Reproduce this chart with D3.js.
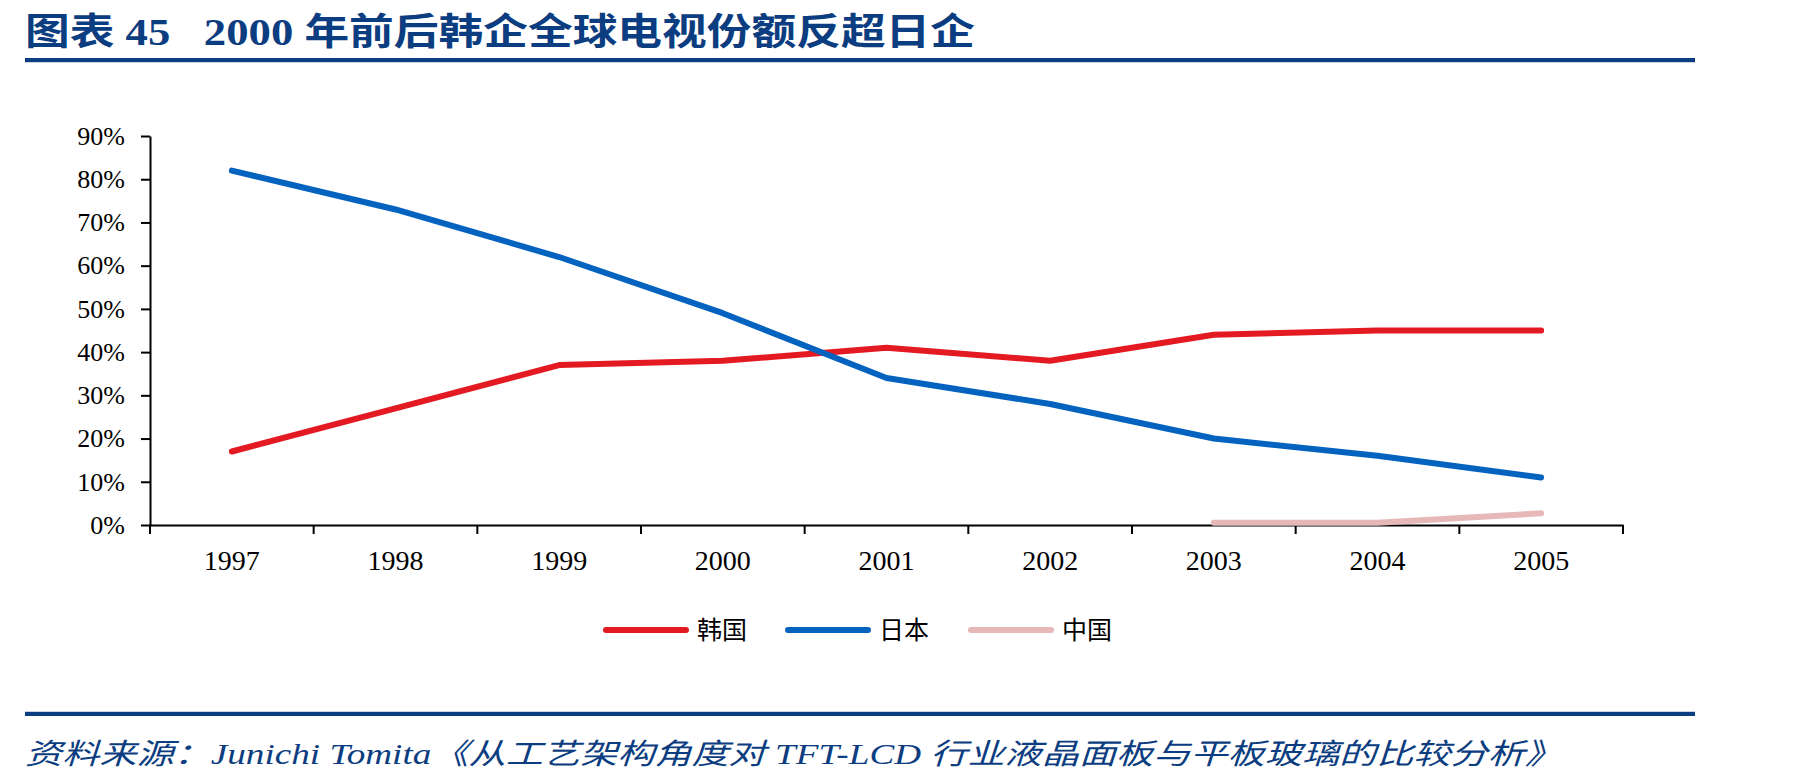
<!DOCTYPE html>
<html>
<head>
<meta charset="utf-8">
<script src="https://cdn.jsdelivr.net/npm/d3@7"></script>
<style>
  body { margin: 0; background: #fff; }
  svg { display: block; }
</style>
</head>
<body>
<svg id="chart"></svg>
<script>
// data
const years  = ['1997', '1998', '1999', '2000', '2001', '2002', '2003', '2004', '2005'];
const korea  = [0.17, 0.27, 0.37, 0.38, 0.41, 0.38, 0.44, 0.45, 0.45];
const japan  = [0.82, 0.73, 0.62, 0.49, 0.34, 0.28, 0.20, 0.16, 0.11];
const china  = [null, null, null, null, null, null, 0.005, 0.005, 0.027];
const yTicks = [0, 0.1, 0.2, 0.3, 0.4, 0.5, 0.6, 0.7, 0.8, 0.9];
const seriesNames  = ['韩国', '日本', '中国'];
const seriesColors = ['#E41A22', '#0563C0', '#E6B9B8'];

const W = 1801, H = 783;
const navy = '#0B3D80';
const serif = '"Liberation Serif", "Times New Roman", "Noto Sans CJK SC", serif';
const cjk = '"Liberation Serif", "Noto Sans CJK SC", sans-serif';

const svg = d3.select('#chart').attr('width', W).attr('height', H);

// ---------- header / footer ----------
svg.append('text')
  .attr('x', 25).attr('y', 45)
  .attr('fill', navy)
  .attr('font-family', cjk)
  .attr('font-weight', 'bold')
  .attr('font-size', 37)
  .style('white-space', 'pre')
  .attr('textLength', 950)
  .attr('lengthAdjust', 'spacingAndGlyphs')
  .text('图表 45   2000 年前后韩企全球电视份额反超日企');

svg.append('rect').attr('x', 25).attr('y', 58).attr('width', 1670).attr('height', 4).attr('fill', navy);
svg.append('rect').attr('x', 25).attr('y', 62).attr('width', 1670).attr('height', 1).attr('fill', '#c9d3e3');

svg.append('rect').attr('x', 25).attr('y', 712).attr('width', 1670).attr('height', 4).attr('fill', navy);
svg.append('rect').attr('x', 25).attr('y', 711).attr('width', 1670).attr('height', 1).attr('fill', '#c9d3e3');

svg.append('text')
  .attr('x', 25).attr('y', 764)
  .attr('fill', navy)
  .attr('font-family', cjk)
  .attr('font-style', 'italic')
  .attr('font-size', 29)
  .attr('textLength', 1537)
  .attr('lengthAdjust', 'spacingAndGlyphs')
  .text('资料来源：Junichi Tomita《从工艺架构角度对 TFT-LCD 行业液晶面板与平板玻璃的比较分析》');

// ---------- chart ----------
const x = d3.scaleBand().domain(years).range([150, 1623]);
const y = d3.scaleLinear().domain([0, 0.9]).range([525, 136]);
const cx = d => x(d) + x.bandwidth() / 2;

// y axis
const yAxis = svg.append('g')
  .attr('transform', 'translate(150,0)')
  .call(d3.axisLeft(y).tickValues(yTicks).tickFormat(d3.format('.0%')).tickSize(9).tickSizeOuter(0).tickPadding(16));
yAxis.select('.domain').attr('stroke', '#000').attr('stroke-width', 2);
yAxis.selectAll('.tick line').attr('stroke', '#000').attr('stroke-width', 2);
yAxis.selectAll('text')
  .attr('font-family', serif).attr('font-size', 26).attr('fill', '#000');

// x axis: labels centred in bands, ticks on band boundaries
const xAxis = svg.append('g')
  .attr('transform', `translate(0,${y(0)})`)
  .call(d3.axisBottom(x).tickSize(0).tickSizeOuter(0).tickPadding(25));
xAxis.select('.domain').attr('stroke', '#000').attr('stroke-width', 2);
xAxis.selectAll('text')
  .attr('font-family', serif).attr('font-size', 28).attr('fill', '#000');
xAxis.selectAll('line.bound')
  .data(years.map(d => x(d)).concat([x.range()[1]]))
  .join('line')
  .attr('class', 'bound')
  .attr('x1', d => d).attr('x2', d => d)
  .attr('y1', 0).attr('y2', 9)
  .attr('stroke', '#000').attr('stroke-width', 2);

// series lines
const line = d3.line()
  .defined(d => d.v != null)
  .x(d => cx(d.year))
  .y(d => y(d.v));

[korea, japan, china].forEach((vals, i) => {
  svg.append('path')
    .datum(years.map((year, j) => ({ year, v: vals[j] })))
    .attr('d', line)
    .attr('fill', 'none')
    .attr('stroke', seriesColors[i])
    .attr('stroke-width', 6)
    .attr('stroke-linecap', 'round')
    .attr('stroke-linejoin', 'round');
});

// legend
const legendX = [606, 788, 971];
const legend = svg.append('g').attr('transform', 'translate(0,630)');
seriesNames.forEach((name, i) => {
  legend.append('line')
    .attr('x1', legendX[i]).attr('x2', legendX[i] + 80)
    .attr('y1', 0).attr('y2', 0)
    .attr('stroke', seriesColors[i])
    .attr('stroke-width', 6)
    .attr('stroke-linecap', 'round');
  legend.append('text')
    .attr('x', legendX[i] + 91).attr('y', 9)
    .attr('font-family', cjk).attr('font-size', 25).attr('fill', '#000')
    .text(name);
});
</script>
</body>
</html>
